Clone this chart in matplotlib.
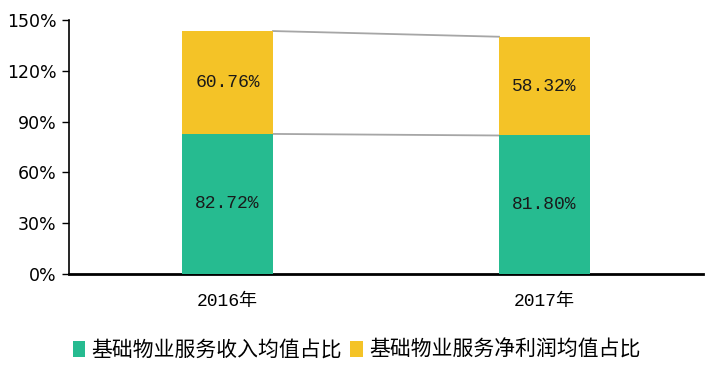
import matplotlib
matplotlib.use("Agg")
import matplotlib.pyplot as plt
from matplotlib.ticker import FixedLocator

categories = ["2016年", "2017年"]
revenue_share = [82.72, 81.80]
profit_share = [60.76, 58.32]
yticks = [0, 30, 60, 90, 120, 150]
series_names = ["基础物业服务收入均值占比", "基础物业服务净利润均值占比"]

green = "#26BB90"
yellow = "#F4C327"
mono = ["Liberation Mono", "Noto Sans CJK SC"]

fig = plt.figure(figsize=(7.13, 3.65), dpi=100)
ax = fig.add_axes([69/713, 1-274/365, 634/713, 254/365])

x = list(range(len(categories)))
w = 0.287
b1 = ax.bar(x, revenue_share, width=w, color=green, label=series_names[0], zorder=3)
b2 = ax.bar(x, profit_share, width=w, bottom=revenue_share, color=yellow, label=series_names[1], zorder=3)

# connector lines
for i in range(len(x) - 1):
    ax.plot([x[i] + w/2, x[i+1] - w/2], [revenue_share[i], revenue_share[i+1]], color="#A6A6A6", lw=1.3, zorder=2)
    t0 = revenue_share[i] + profit_share[i]
    t1 = revenue_share[i+1] + profit_share[i+1]
    ax.plot([x[i] + w/2, x[i+1] - w/2], [t0, t1], color="#A6A6A6", lw=1.3, zorder=2)

for i in x:
    ax.text(i, revenue_share[i]/2, f"{revenue_share[i]:.2f}%", ha="center", va="center",
            fontsize=13, family=mono, color="#1a1a1a", zorder=4)
    ax.text(i, revenue_share[i] + profit_share[i]/2, f"{profit_share[i]:.2f}%", ha="center", va="center",
            fontsize=13, family=mono, color="#1a1a1a", zorder=4)

ax.set_xlim(-0.5, 1.5)
ax.set_ylim(0, 150)
ax.yaxis.set_major_locator(FixedLocator(yticks))
ax.set_yticklabels([f"{t}%" for t in yticks], fontsize=12.5, family=["DejaVu Sans"])
ax.set_xticks(x)
ax.set_xticklabels(categories, fontsize=13, family=mono)
ax.tick_params(axis="x", length=0, pad=14)
ax.tick_params(axis="y", length=5, width=1, direction="out", pad=4)

for s in ["top", "right"]:
    ax.spines[s].set_visible(False)
ax.spines["left"].set_linewidth(1.2)
ax.spines["bottom"].set_linewidth(2)

leg = fig.legend(handles=[b1, b2], labels=series_names, loc="center", bbox_to_anchor=(0.5, 1-350/365),
                 ncol=2, frameon=False, prop={"family": ["Noto Sans CJK SC"], "size": 15},
                 handlelength=0.6, handleheight=0.8, handletextpad=0.3, columnspacing=0.4)

fig.savefig("out.png", dpi=100)
